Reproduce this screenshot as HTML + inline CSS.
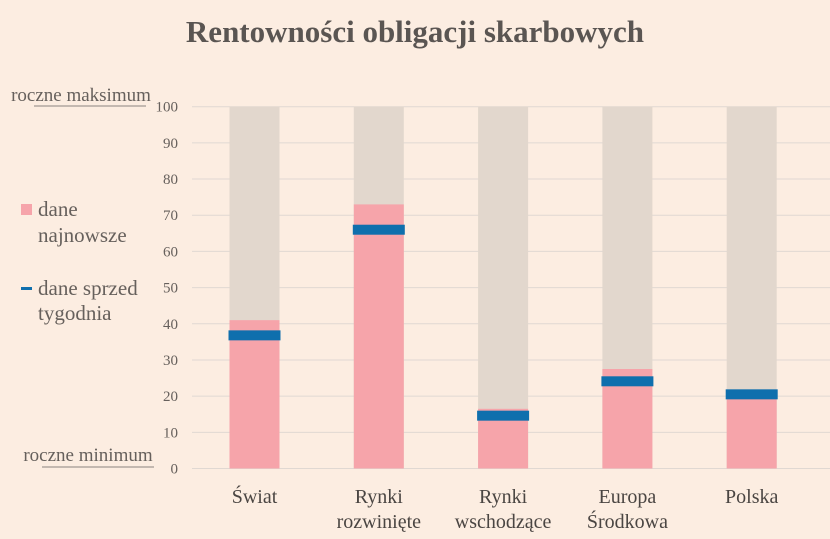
<!DOCTYPE html>
<html><head><meta charset="utf-8"><style>
body{margin:0;background:#fcede1;}
svg{display:block;font-family:"Liberation Serif",serif;}
</style></head><body>
<svg width="830" height="539">
<text x="415" y="42" text-anchor="middle" font-size="31" font-weight="bold" fill="#5a5552">Rentowności obligacji skarbowych</text>
<g id="grid"></g>
<g id="bars"></g>
<g id="xl"></g>
<text x="81" y="101" text-anchor="middle" font-size="19" fill="#66605c">roczne maksimum</text>
<line x1="34" y1="106" x2="146" y2="106" stroke="#8a8480"/>
<text x="88" y="461" text-anchor="middle" font-size="19" fill="#66605c">roczne minimum</text>
<line x1="42" y1="467" x2="154" y2="467" stroke="#8a8480"/>
<g>
<rect x="21" y="204" width="11" height="11" fill="#f6a4aa"/>
<text x="38" y="216" font-size="21" fill="#66605c">dane</text>
<text x="38" y="242" font-size="21" fill="#66605c">najnowsze</text>
<rect x="21" y="287" width="11" height="3" fill="#0f6fad"/>
<text x="38" y="295" font-size="21" fill="#66605c">dane sprzed</text>
<text x="38" y="320" font-size="21" fill="#66605c">tygodnia</text>
</g>
</svg>
<script>
const categories=[["Świat"],["Rynki","rozwinięte"],["Rynki","wschodzące"],["Europa","Środkowa"],["Polska"]];
const latest=[41,73,16.5,27.5,20];
const weekAgo=[36.8,66,14.6,24.1,20.5];
const ticks=[0,10,20,30,40,50,60,70,80,90,100];
const NS="http://www.w3.org/2000/svg";
const y=v=>468.5-v*3.618;
const x=i=>254.5+i*124.3;
function mk(t,a,p){const e=document.createElementNS(NS,t);for(const k in a)e.setAttribute(k,a[k]);p.appendChild(e);return e;}
const g=document.getElementById('grid'),b=document.getElementById('bars'),xl=document.getElementById('xl');
ticks.forEach(t=>{
 const l=mk('line',{x1:192,x2:830,y1:y(t),y2:y(t),stroke:"#e0d8d2","stroke-width":1},g);
 
 
 const tx=mk('text',{x:178,y:y(t)+5,"text-anchor":"end","font-size":15,fill:"#66605c"},g);
 tx.textContent=t;
 
 
});
categories.forEach((c,i)=>{
 const bg=mk('rect',{x:x(i)-25,y:y(100),width:50,height:y(0)-y(100),fill:"#e2d7cd"},b);
 
 
 const r=mk('rect',{x:x(i)-25,y:y(latest[i]),width:50,height:y(0)-y(latest[i]),fill:"#f6a4aa"},b);
 
 
 const m=mk('rect',{x:x(i)-26,y:y(weekAgo[i])-5,width:52,height:10,fill:"#0f6fad"},b);
 
 
 c.forEach((s,j)=>{
  const t=mk('text',{x:x(i),y:503+j*25,"text-anchor":"middle","font-size":20,fill:"#4a4542"},xl);
  t.textContent=s;
  
  
 });
});
</script>
</body></html>
